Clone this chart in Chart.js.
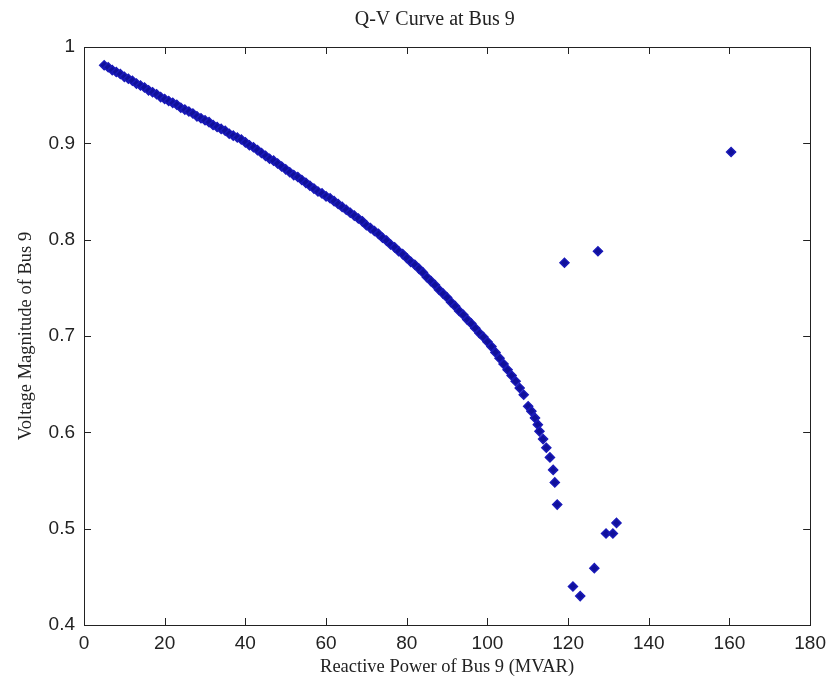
<!DOCTYPE html>
<html>
<head>
<meta charset="utf-8">
<title>Q-V Curve at Bus 9</title>
<script src="https://cdn.jsdelivr.net/npm/chart.js@4/dist/chart.umd.min.js"></script>
<style>
  html, body { margin: 0; padding: 0; background: #fff; }
  #wrap { width: 833px; height: 691px; }
</style>
</head>
<body>
<div id="wrap"><canvas id="qvChart" width="833" height="691"></canvas></div>
<script>
// ─── Data ──────────────────────────────────────────────────────
const chartTitle = 'Q-V Curve at Bus 9';
const xLabel = 'Reactive Power of Bus 9 (MVAR)';
const yLabel = 'Voltage Magnitude of Bus 9';

// reactive power, MVAR
const qValues = [
    5, 6, 7, 8, 9, 10, 11, 12, 13, 14, 15, 16, 17, 18, 19, 20,
    21, 22, 23, 24, 25, 26, 27, 28, 29, 30, 31, 32, 33, 34, 35, 36, 37, 38, 39, 40,
    41, 42, 43, 44, 45, 46, 47, 48, 49, 50, 51, 52, 53, 54, 55, 56, 57, 58, 59, 60,
    61, 62, 63, 64, 65, 66, 67, 68, 69, 70, 71, 72, 73, 74, 75, 76, 77, 78, 79, 80,
    81, 82, 83, 84, 85, 86, 87, 88, 89, 90, 91, 92, 93, 94, 95, 96, 97, 98, 99, 100,
    101, 102, 103, 104, 105, 106, 107, 108, 109,
    110.1, 110.9, 111.8, 112.5, 112.9, 113.8, 114.6, 115.5, 116.3, 116.7, 117.3,
    119.1, 127.4, 160.4, 121.2, 123.0, 126.5, 129.4, 131.1, 132.0
];

// voltage magnitude, p.u.
const vValues = [
    0.981, 0.979, 0.976, 0.974, 0.972, 0.969, 0.967, 0.965, 0.962, 0.960, 0.958, 0.955, 0.953, 0.951, 0.948, 0.946,
    0.944, 0.942, 0.940, 0.937, 0.935, 0.933, 0.931, 0.928, 0.926, 0.924, 0.922, 0.919, 0.917, 0.915, 0.913, 0.910, 0.908, 0.906, 0.904, 0.901,
    0.898, 0.896, 0.893, 0.890, 0.887, 0.884, 0.882, 0.879, 0.876, 0.873, 0.870, 0.867, 0.865, 0.862, 0.859, 0.856, 0.853, 0.850, 0.848, 0.845,
    0.843, 0.840, 0.837, 0.834, 0.831, 0.828, 0.825, 0.822, 0.819, 0.815, 0.812, 0.809, 0.806, 0.802, 0.799, 0.795, 0.792, 0.788, 0.785, 0.781,
    0.777, 0.774, 0.770, 0.766, 0.761, 0.757, 0.753, 0.748, 0.744, 0.740, 0.735, 0.731, 0.726, 0.722, 0.717, 0.713, 0.708, 0.703, 0.699, 0.694,
    0.689, 0.683, 0.677, 0.671, 0.665, 0.659, 0.653, 0.646, 0.639,
    0.627, 0.622, 0.615, 0.608, 0.601, 0.593, 0.584, 0.574, 0.561, 0.548, 0.525,
    0.776, 0.788, 0.891, 0.440, 0.430, 0.459, 0.495, 0.495, 0.506
];

const xTicks = [0, 20, 40, 60, 80, 100, 120, 140, 160, 180];
const yTicks = [0.4, 0.5, 0.6, 0.7, 0.8, 0.9, 1];

// ─── Styles ────────────────────────────────────────────────────
const tickFont = { family: '"Liberation Sans", Arial, sans-serif', size: 19 };
const labelFont = { family: '"Liberation Serif", "Times New Roman", serif', size: 18.5 };
const titleFont = { family: '"Liberation Serif", "Times New Roman", serif', size: 20 };
const inkColor = '#222222';

// ─── Box + inward ticks + title (MATLAB look) ──────────────────
const matlabBox = {
    id: 'matlabBox',
    afterDatasetsDraw(chart) {
        const { ctx, chartArea: a, scales: { x, y } } = chart;
        const tl = 7;
        ctx.save();
        ctx.strokeStyle = inkColor;
        ctx.lineWidth = 1;
        ctx.beginPath();
        xTicks.forEach(v => {
            const px = Math.round(x.getPixelForValue(v)) + 0.5;
            ctx.moveTo(px, a.bottom); ctx.lineTo(px, a.bottom - tl);
            ctx.moveTo(px, a.top); ctx.lineTo(px, a.top + tl);
        });
        yTicks.forEach(v => {
            const py = Math.round(y.getPixelForValue(v)) + 0.5;
            ctx.moveTo(a.left, py); ctx.lineTo(a.left + tl, py);
            ctx.moveTo(a.right, py); ctx.lineTo(a.right - tl, py);
        });
        ctx.stroke();
        ctx.strokeRect(Math.round(a.left) + 0.5, Math.round(a.top) + 0.5,
                       Math.round(a.width), Math.round(a.height));

        ctx.fillStyle = inkColor;
        ctx.font = `${titleFont.size}px ${titleFont.family}`;
        ctx.textAlign = 'center';
        ctx.textBaseline = 'middle';
        ctx.fillText(chartTitle, a.left + a.width * 0.483, 20);
        ctx.restore();
    }
};

// ─── Chart ─────────────────────────────────────────────────────
const points = qValues.map((q, i) => ({ x: q, y: vValues[i] }));

new Chart(document.getElementById('qvChart'), {
    type: 'scatter',
    data: {
        datasets: [{
            data: points,
            pointStyle: 'rectRot',
            pointRadius: 4.5,
            pointBackgroundColor: '#10109a',
            pointBorderColor: '#1a1ab8',
            pointBorderWidth: 1.5,
        }]
    },
    options: {
        responsive: false,
        animation: false,
        events: [],
        layout: { padding: { top: 47, right: 21, left: 0, bottom: 0 } },
        plugins: { legend: { display: false }, tooltip: { enabled: false } },
        scales: {
            x: {
                type: 'linear',
                min: 0, max: 180,
                grid: { display: false, drawTicks: false },
                border: { display: false },
                afterBuildTicks: s => { s.ticks = xTicks.map(v => ({ value: v })); },
                afterFit: s => { s.height = 66; },
                ticks: { font: tickFont, color: inkColor, padding: 7, maxRotation: 0, autoSkip: false },
                title: { display: true, text: xLabel, font: labelFont, color: inkColor, padding: { top: 0, bottom: 13 } }
            },
            y: {
                type: 'linear',
                min: 0.4, max: 1,
                grid: { display: false, drawTicks: false },
                border: { display: false },
                afterBuildTicks: s => { s.ticks = yTicks.map(v => ({ value: v })); },
                afterFit: s => { s.width = 84; },
                ticks: {
                    font: tickFont, color: inkColor, padding: 9, autoSkip: false,
                    callback: v => String(+v.toFixed(1))
                },
                title: { display: true, text: yLabel, font: labelFont, color: inkColor, padding: { top: 15, bottom: 0 } }
            }
        }
    },
    plugins: [matlabBox]
});
</script>
</body>
</html>
